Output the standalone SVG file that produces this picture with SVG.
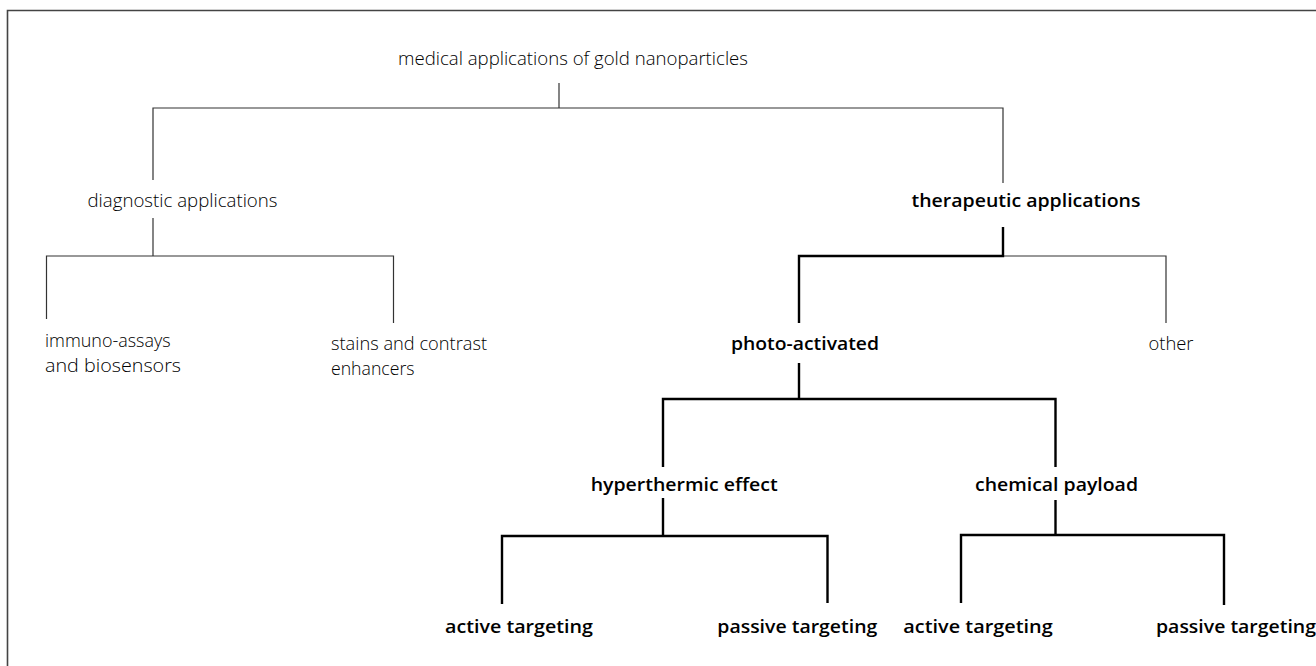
<svg xmlns="http://www.w3.org/2000/svg" width="1316" height="666" viewBox="0 0 1316 666">
<style>
.t{font-family:"Open Sans","Noto Sans","Liberation Sans",sans-serif;font-size:17.5px;fill:#000;font-weight:300}
.b{font-family:"Open Sans","Noto Sans","Liberation Sans",sans-serif;font-size:18.5px;fill:#000;font-weight:600}
.thin{stroke:#333;stroke-width:1.2;fill:none}
.thick{stroke:#000;stroke-width:2.4;fill:none}
.frame{stroke:#444;stroke-width:1.6;fill:none}
</style>
<rect width="1316" height="666" fill="#fff"/>
<path class="frame" d="M7.5,666 V10.5 H1316"/>
<g id="connectors">
<path class="thin" d="M559,83 V108"/>
<path class="thin" d="M153,180 V108 H1003 V183"/>
<path class="thin" d="M153,218 V256"/>
<path class="thin" d="M46.5,319 V256 H393.5 V323"/>
<path class="thin" d="M1003,256 H1166 V323"/>
<path class="thick" d="M1003,227 V256 H799 V323"/>
<path class="thick" d="M799,363 V399"/>
<path class="thick" d="M663,467 V399 H1055.5 V467"/>
<path class="thick" d="M663,498 V536"/>
<path class="thick" d="M502,604 V536 H827.5 V603"/>
<path class="thick" d="M1055.5,500 V535"/>
<path class="thick" d="M961,603 V535 H1224 V605"/>
</g>
<g id="root"><text class="t" x="398" y="65" textLength="350" lengthAdjust="spacingAndGlyphs">medical applications of gold nanoparticles</text></g>
<g id="diagnostic"><text class="t" x="87.5" y="207" textLength="190" lengthAdjust="spacingAndGlyphs">diagnostic applications</text></g>
<g id="therapeutic"><text class="b" x="911.5" y="207" textLength="229" lengthAdjust="spacingAndGlyphs">therapeutic applications</text></g>
<g id="immuno"><text class="t" x="45" y="347" textLength="125.5" lengthAdjust="spacingAndGlyphs">immuno-assays</text><text class="t" x="45" y="372" textLength="136" lengthAdjust="spacingAndGlyphs">and biosensors</text></g>
<g id="stains"><text class="t" x="331" y="350" textLength="156" lengthAdjust="spacingAndGlyphs">stains and contrast</text><text class="t" x="331" y="375" textLength="83.5" lengthAdjust="spacingAndGlyphs">enhancers</text></g>
<g id="photo"><text class="b" x="731" y="350" textLength="148" lengthAdjust="spacingAndGlyphs">photo-activated</text></g>
<g id="other"><text class="t" x="1148.5" y="350" textLength="45" lengthAdjust="spacingAndGlyphs">other</text></g>
<g id="hyper"><text class="b" x="590.7" y="490.7" textLength="187" lengthAdjust="spacingAndGlyphs">hyperthermic effect</text></g>
<g id="chemical"><text class="b" x="975" y="490.7" textLength="163" lengthAdjust="spacingAndGlyphs">chemical payload</text></g>
<g id="active1"><text class="b" x="445" y="633.3" textLength="148" lengthAdjust="spacingAndGlyphs">active targeting</text></g>
<g id="passive1"><text class="b" x="717.3" y="633.3" textLength="160" lengthAdjust="spacingAndGlyphs">passive targeting</text></g>
<g id="active2"><text class="b" x="903.3" y="633.3" textLength="149.4" lengthAdjust="spacingAndGlyphs">active targeting</text></g>
<g id="passive2"><text class="b" x="1156" y="633.3" textLength="160" lengthAdjust="spacingAndGlyphs">passive targeting</text></g>
</svg>
